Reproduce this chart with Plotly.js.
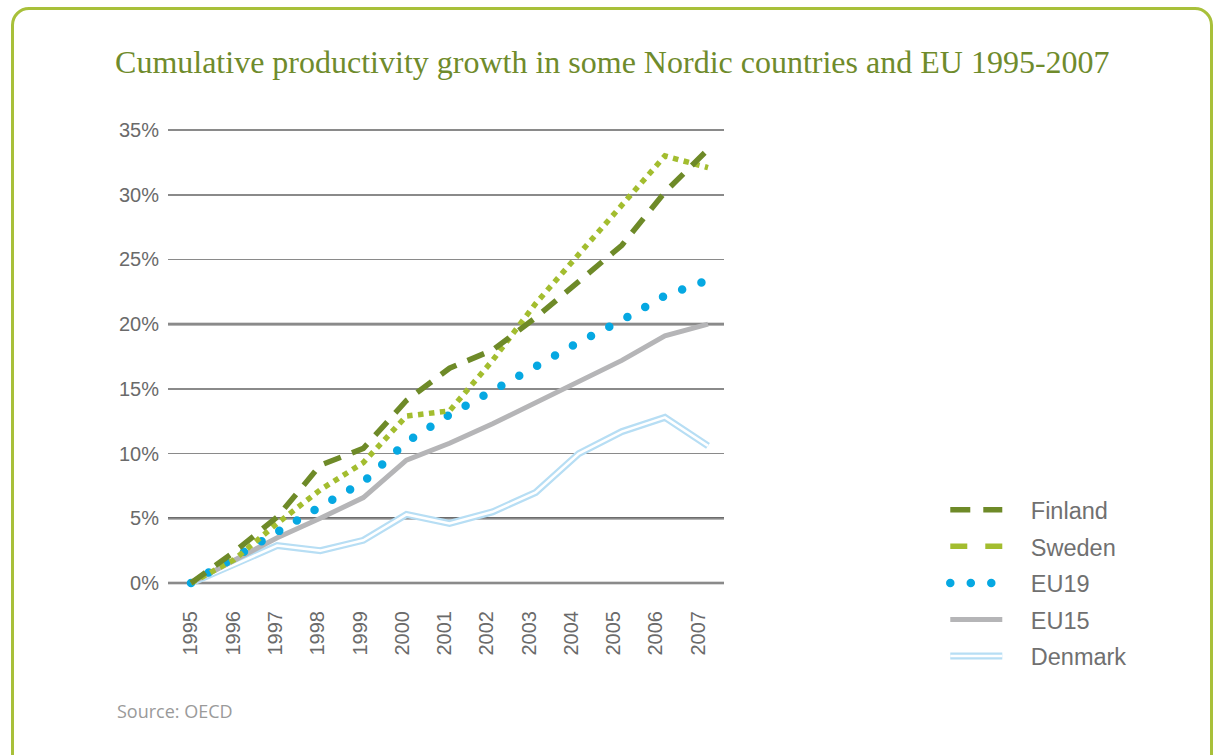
<!DOCTYPE html>
<html>
<head>
<meta charset="utf-8">
<script src="https://cdn.plot.ly/plotly-3.0.1.min.js"></script>
<style>
  html, body { margin: 0; padding: 0; background: #ffffff; }
  #wrap { position: relative; width: 1216px; height: 755px; overflow: hidden; }
  #chart { position: absolute; left: 0; top: 0; width: 1216px; height: 755px; }
  #frame { position: absolute; left: 11px; top: 7px; width: 1202px; height: 770px;
           border: 3px solid #a8c03a; border-radius: 18px; pointer-events: none; box-sizing: border-box; }
</style>
</head>
<body>
<div id="wrap">
  <div id="chart"></div>
  <div id="frame"></div>
</div>
<script>
// ---- data ----
const years = [1995, 1996, 1997, 1998, 1999, 2000, 2001, 2002, 2003, 2004, 2005, 2006, 2007];
const yearLabels = ["1995", "1996", "1997", "1998", "1999", "2000", "2001", "2002", "2003", "2004", "2005", "2006", "2007"];
const finland = [0, 2.4, 5.1, 9.1, 10.4, 14.1, 16.6, 18.0, 20.5, 23.3, 26.1, 30.2, 33.5];
const sweden  = [0, 1.8, 4.6, 7.2, 9.3, 12.9, 13.3, 17.2, 21.6, 25.4, 29.1, 33.0, 32.1];
const eu19    = [0, 2.0, 4.0, 5.9, 7.8, 10.9, 13.0, 14.9, 16.8, 18.6, 20.3, 22.2, 23.4];
const eu15    = [0, 1.7, 3.5, 5.0, 6.6, 9.5, 10.8, 12.3, 13.9, 15.5, 17.2, 19.1, 20.0];
const denmark = [0, 1.4, 2.9, 2.5, 3.3, 5.3, 4.6, 5.5, 7.0, 10.0, 11.7, 12.8, 10.6];
const yTickVals = [0, 5, 10, 15, 20, 25, 30, 35];
const yTickText = ["0%", "5%", "10%", "15%", "20%", "25%", "30%", "35%"];
const strongGrid = [0, 5, 20];
const titleText = "Cumulative productivity growth in some Nordic countries and EU 1995-2007";
const sourceText = "Source: OECD";

const pad = "\u2003"; // gap between legend symbol and legend text

// ---- traces (drawn bottom to top; legend order set by legendrank) ----
const traces = [
  { x: years, y: denmark, name: pad + "Denmark", legendgroup: "dk", legendrank: 5, type: "scatter", mode: "lines",
    line: { color: "#b7def4", width: 7 } },
  { x: years, y: denmark, name: pad + "Denmark", legendgroup: "dk", legendrank: 5, type: "scatter", mode: "lines",
    line: { color: "#ffffff", width: 2.6 }, showlegend: false, hoverinfo: "skip" },
  { x: years, y: eu15, name: pad + "EU15", legendgroup: "eu15", legendrank: 4, type: "scatter", mode: "lines",
    line: { color: "#b5b5b7", width: 5 } },
  { x: years, y: eu19, name: pad + "EU19", legendgroup: "eu19", legendrank: 3, type: "scatter", mode: "lines",
    line: { color: "#06a8e2", width: 8.5, dash: "0px,20.5px" } },
  { x: years, y: sweden, name: pad + "Sweden", legendgroup: "se", legendrank: 2, type: "scatter", mode: "lines",
    line: { color: "#a3bd2f", width: 5.5, dash: "5.5px,5.5px" } },
  { x: years, y: finland, name: pad + "Finland", legendgroup: "fi", legendrank: 1, type: "scatter", mode: "lines",
    line: { color: "#6e8a28", width: 5.5, dash: "18px,12px" } }
];

const shapes = strongGrid.map(v => ({
  type: "line", xref: "paper", yref: "y", x0: 0, x1: 1, y0: v, y1: v,
  line: { color: "#6c6c6c", width: 2.6 }, layer: "below"
}));

const layout = {
  width: 1216, height: 755,
  margin: { l: 168, r: 492, t: 125, b: 165 },
  paper_bgcolor: "rgba(0,0,0,0)", plot_bgcolor: "rgba(0,0,0,0)",
  title: {
    text: titleText, xref: "container", yref: "container",
    x: 0.0946, xanchor: "left", y: 0.918, yanchor: "middle",
    font: { family: "Liberation Serif, serif", size: 32, color: "#6f8b2c" }
  },
  showlegend: true,
  legend: {
    x: 1.398, xanchor: "left", y: 0.015, yanchor: "middle",
    traceorder: "grouped",
    font: { family: "Liberation Sans, Arial, sans-serif", size: 23.5, color: "#707070" },
    bgcolor: "rgba(0,0,0,0)", itemwidth: 52, tracegroupgap: 3
  },
  xaxis: {
    range: [1994.466, 2007.371], showgrid: false, zeroline: false, showline: false,
    showticklabels: false, ticks: "", fixedrange: true
  },
  xaxis2: {
    overlaying: "x", anchor: "y", side: "bottom",
    range: [1994.456, 2007.615], tickmode: "array", tickvals: years, ticktext: yearLabels,
    tickangle: -90, showgrid: false, zeroline: false, showline: false, ticks: "",
    ticklabelstandoff: 16,
    tickfont: { family: "Liberation Sans, Arial, sans-serif", size: 20, color: "#6a6a6a" }
  },
  yaxis: {
    range: [-0.54, 35.39], tickmode: "array", tickvals: yTickVals, ticktext: yTickText,
    showgrid: true, gridcolor: "#8a8a8a", gridwidth: 1.5, zeroline: false, showline: false,
    ticks: "", ticklabelstandoff: 8,
    tickfont: { family: "Liberation Sans, Arial, sans-serif", size: 20, color: "#6a6a6a" }
  },
  shapes: shapes,
  annotations: [{
    text: sourceText, xref: "paper", yref: "paper", x: -0.0953, y: -0.26,
    xanchor: "left", yanchor: "middle", showarrow: false,
    font: { family: "Open Sans, sans-serif", size: 18, color: "#9a9a9a" }
  }]
};

// dummy trace on xaxis2 so its ticks are drawn
traces.push({ x: [years[0]], y: [null], xaxis: "x2", yaxis: "y", type: "scatter",
  mode: "lines", showlegend: false, hoverinfo: "skip" });

Plotly.newPlot("chart", traces, layout, { displayModeBar: false, staticPlot: true }).then(gd => {
  // round caps for the EU19 dotted line (plot + legend)
  const plotTraces = gd.querySelectorAll(".scatterlayer .trace");
  if (plotTraces[3]) plotTraces[3].querySelectorAll(".js-line").forEach(p => p.style.strokeLinecap = "round");
  gd.querySelectorAll(".legend .traces").forEach(t => {
    const name = t.querySelector(".legendtext").textContent.trim();
    const line = t.querySelector(".js-line");
    if (!line) return;
    if (name === "EU19") line.style.strokeLinecap = "round";
    if (name === "Sweden") line.style.strokeDasharray = "17px,18px";
    if (name === "Finland") line.style.strokeDasharray = "20px,13px";
    if (name === "Denmark") {
      const core = line.cloneNode(true);
      core.style.stroke = "#ffffff";
      core.style.strokeWidth = "2.6px";
      line.parentNode.appendChild(core);
    }
  });
});
</script>
</body>
</html>
